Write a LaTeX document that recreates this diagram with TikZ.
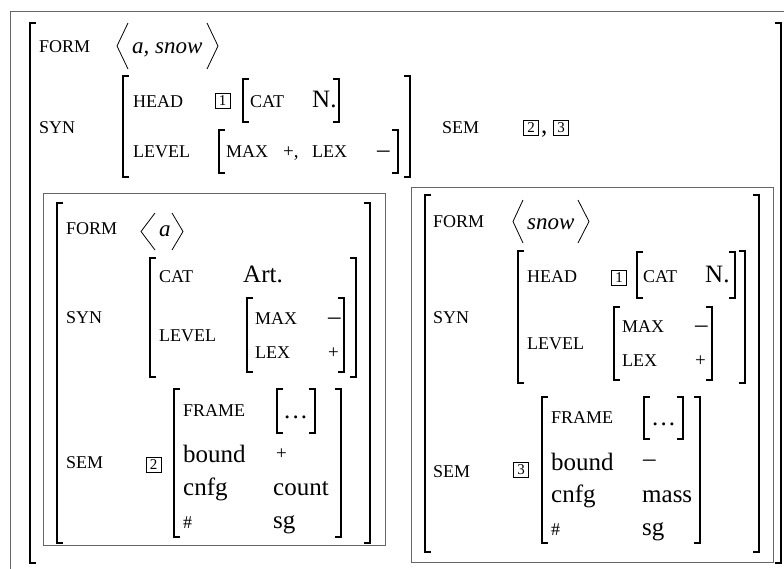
\documentclass[tikz,border=0pt]{standalone}
\usepackage{fontspec}
\setmainfont{Liberation Serif}
\newcommand\labfont{\fontsize{18}{20}\selectfont}
\newcommand\valfont{\fontsize{25}{27}\selectfont}
\newcommand\itfont{\fontsize{23}{26}\selectfont\itshape}
\newcommand\sgnfont{\fontsize{19}{20}\selectfont}
\newcommand\dotsk{\makebox[23pt]{.\hfill.\hfill.}}
\newcommand\LBk[3]{\draw[brk] ({#1+6},#2) -- (#1,#2) -- (#1,#3) -- ({#1+6},#3);}
\newcommand\RBk[3]{\draw[brk] ({#1-6},#2) -- (#1,#2) -- (#1,#3) -- ({#1-6},#3);}
\newcommand\BRk[4]{\LBk{#1}{#3}{#4}\RBk{#2}{#3}{#4}}
\newcommand\ANGk[4]{\draw[ang] ({#1+#2},#3) -- (#1,{(#3+#4)/2}) -- ({#1+#2},#4);}
\tikzset{
  brk/.style={line width=1.3pt, line join=miter},
  ang/.style={line width=0.8pt},
  lab/.style={anchor=base west, inner sep=0pt, font=\labfont},
  val/.style={anchor=base west, inner sep=0pt, font=\valfont},
  ital/.style={anchor=base west, inner sep=0pt, font=\itfont},
  sgn/.style={anchor=base west, inner sep=0pt, font=\sgnfont},
  tag/.style={draw, line width=0.6pt, minimum width=15pt, minimum height=15pt, inner sep=0pt, font=\fontsize{15}{15}\selectfont},
  frame/.style={draw=black!60, line width=1pt},
}
\begin{document}
\begin{tikzpicture}[x=1pt,y=-1pt]
\useasboundingbox (0,0) rectangle (784,568);
\begin{scope}
\clip (0,0) rectangle (784,568);
\draw[frame] (10,11) rectangle (800,600);
\end{scope}
% ---------------- top level ----------------
\BRk{30}{781}{23}{563}
\node[lab] (tform) at (39,52) {FORM};
\ANGk{117}{11}{23}{69}
\ANGk{218}{-11}{23}{69}
\node[ital] (tforms) at (132,53) {a, snow};
\node[lab] (tsyn) at (39,133) {SYN};
\BRk{123}{410}{76}{177}
\node[lab] (thead) at (133,107) {HEAD};
\node[tag] (tt1) at (222.5,101) {1};
\BRk{243}{339}{79}{122}
\node[lab] (tcat) at (250,107) {CAT};
\node[val] (tn) at (312,107) {N.};
\node[lab] (tlevel) at (133,157) {LEVEL};
\BRk{219}{398}{130}{173}
\node[lab] (tmax) at (226,157) {MAX};
\node[sgn] (tplus) at (283,157) {+,};
\node[lab] (tlex) at (312,157) {LEX};
\node[val] (tminus) at (377,157) {\textendash};
\node[lab] (tsem) at (442,133) {SEM};
\node[tag] (tt2) at (531,127.5) {2};
\node[val] (tcomma) at (541,133) {,};
\node[tag] (tt3) at (561,127.5) {3};
% ---------------- left box: a ----------------
\draw[frame] (43,193) rectangle (385,545);
\BRk{57}{370}{203}{543}
\node[lab] (aform) at (66,234) {FORM};
\ANGk{141}{14}{213}{250}
\ANGk{183}{-11}{213}{250}
\node[ital] (aforms) at (159,236) {a};
\node[lab] (asyn) at (66,323) {SYN};
\BRk{150}{356}{258}{377}
\node[lab] (acat) at (159,282) {CAT};
\node[val] (aart) at (243,282) {Art.};
\node[lab] (alevel) at (159,341) {LEVEL};
\BRk{247}{344}{298}{372}
\node[lab] (amax) at (255,324) {MAX};
\node[val] (amaxv) at (328,324) {\textendash};
\node[lab] (alex) at (255,358) {LEX};
\node[sgn] (alexv) at (328,358) {+};
\node[lab] (asem) at (66,468) {SEM};
\node[tag] (at2) at (153.5,464.5) {2};
\BRk{174}{341}{389}{537}
\node[lab] (aframe) at (183,416) {FRAME};
\BRk{277}{315}{389}{433}
\node[val] (adots) at (284,418) {\dotsk};
\node[val] (abound) at (183,462) {bound};
\node[sgn] (aboundv) at (276,459) {+};
\node[val] (acnfg) at (183,495) {cnfg};
\node[val] (acnfgv) at (273,495) {count};
\node[lab] (anum) at (183,528) {\#};
\node[val] (anumv) at (273,528) {sg};
% ---------------- right box: snow ----------------
\draw[frame] (411,187) rectangle (773,562);
\BRk{425}{759}{195}{552}
\node[lab] (sform) at (433,227) {FORM};
\ANGk{513}{10}{200}{243}
\ANGk{589}{-11}{200}{243}
\node[ital] (sforms) at (527,229) {snow};
\node[lab] (ssyn) at (433,323) {SYN};
\BRk{518}{745}{251}{383}
\node[lab] (shead) at (527,282) {HEAD};
\node[tag] (st1) at (619,277.5) {1};
\BRk{637}{735}{252}{298}
\node[lab] (scat) at (643,282) {CAT};
\node[val] (sn) at (705,282) {N.};
\node[lab] (slevel) at (527,349) {LEVEL};
\BRk{614}{712}{307}{380}
\node[lab] (smax) at (622,332) {MAX};
\node[val] (smaxv) at (695,332) {\textendash};
\node[lab] (slex) at (622,366) {LEX};
\node[sgn] (slexv) at (695,366) {+};
\node[lab] (ssem) at (433,477) {SEM};
\node[tag] (st3) at (521,470) {3};
\BRk{542}{700}{397}{543}
\node[lab] (sframe) at (551,423) {FRAME};
\BRk{644}{683}{397}{439}
\node[val] (sdots) at (652,425) {\dotsk};
\node[val] (sbound) at (551,470) {bound};
\node[val] (sboundv) at (643,466) {\textendash};
\node[val] (scnfg) at (551,502) {cnfg};
\node[val] (scnfgv) at (642,502) {mass};
\node[lab] (snum) at (551,535) {\#};
\node[val] (snumv) at (642,535) {sg};
\end{tikzpicture}
\end{document}
